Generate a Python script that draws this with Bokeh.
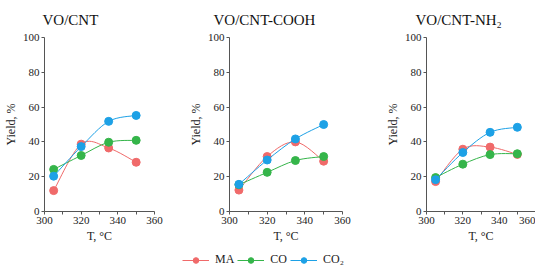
from bokeh.plotting import figure
from bokeh.layouts import row, column
from bokeh.models import Range1d, FixedTicker, Legend, LegendItem, ColumnDataSource
from bokeh.embed import file_html
from bokeh.resources import INLINE

# ---- data ----
temps = [305, 320, 335, 350]
titles = ["VO/CNT", "VO/CNT-COOH", "VO/CNT-NH\u2082"]
series_names = ["MA", "CO", "CO\u2082"]
ma_cnt = [12, 38.7, 36.5, 28.3]
co_cnt = [24.2, 32.2, 39.8, 40.9]
co2_cnt = [20.3, 37.3, 51.8, 55.2]
ma_cooh = [12.3, 31.6, 40.0, 28.9]
co_cooh = [15.4, 22.5, 29.3, 31.6]
co2_cooh = [15.6, 29.6, 41.7, 50.0]
ma_nh2 = [17.2, 35.8, 37.0, 32.8]
co_nh2 = [19.5, 27.2, 32.7, 33.2]
co2_nh2 = [18.3, 33.9, 45.5, 48.4]
x_ticks = [300, 320, 340, 360]
x_minor = [310, 330, 350]
y_ticks = [0, 20, 40, 60, 80, 100]

panels = [
    (titles[0], [ma_cnt, co_cnt, co2_cnt]),
    (titles[1], [ma_cooh, co_cooh, co2_cooh]),
    (titles[2], [ma_nh2, co_nh2, co2_nh2]),
]
colors = ["#F06A6A", "#35B54A", "#1DA1E6"]
FONT = "Liberation Serif"


def spline_segments(xs, ys):
    n = len(xs)
    px = [xs[0]] + list(xs) + [xs[-1]]
    py = [ys[0]] + list(ys) + [ys[-1]]
    d = dict(x0=[], y0=[], x1=[], y1=[], cx0=[], cy0=[], cx1=[], cy1=[])
    for i in range(1, n):
        d["x0"].append(px[i]); d["y0"].append(py[i])
        d["x1"].append(px[i + 1]); d["y1"].append(py[i + 1])
        d["cx0"].append(px[i] + (px[i + 1] - px[i - 1]) / 6)
        d["cy0"].append(py[i] + (py[i + 1] - py[i - 1]) / 6)
        d["cx1"].append(px[i + 1] - (px[i + 2] - px[i]) / 6)
        d["cy1"].append(py[i + 1] - (py[i + 2] - py[i]) / 6)
    return ColumnDataSource(d)


# (min_border_left, frame_width, min_border_right, title offset)
geom = [(34, 110, 31, -2), (34, 113, 40, -16), (34, 109, 0, -11)]

figs = []
for (title, ys_list), (bl, fw, br, toff) in zip(panels, geom):
    p = figure(frame_width=fw, frame_height=174, min_border_left=bl,
               min_border_right=br, min_border_top=33, min_border_bottom=0,
               x_range=Range1d(300, 360), y_range=Range1d(0, 100),
               output_backend="svg", toolbar_location=None, title=title)
    p.title.align = "left"
    p.title.offset = toff
    p.title.text_font = FONT
    p.title.text_font_size = "15px"
    p.title.text_font_style = "normal"
    p.title.text_color = "#111111"
    p.title.standoff = 19
    p.outline_line_color = None
    p.grid.visible = False
    p.xaxis.ticker = FixedTicker(ticks=x_ticks, minor_ticks=x_minor)
    p.yaxis.ticker = FixedTicker(ticks=y_ticks, minor_ticks=[])
    p.xaxis.axis_label = "T, \u00b0C"
    p.yaxis.axis_label = "Yield, %"
    for ax in (p.xaxis[0], p.yaxis[0]):
        ax.axis_line_color = "#555555"
        ax.major_tick_line_color = "#555555"
        ax.minor_tick_line_color = "#555555"
        ax.major_tick_in = 0
        ax.major_tick_out = 3
        ax.minor_tick_in = 0
        ax.minor_tick_out = 3
        ax.major_label_text_font = FONT
        ax.major_label_text_font_size = "11px"
        ax.major_label_text_color = "#222222"
        ax.axis_label_text_font = FONT
        ax.axis_label_text_font_size = "12px"
        ax.axis_label_text_font_style = "normal"
        ax.axis_label_text_color = "#222222"
        ax.major_label_standoff = 2
        ax.axis_label_standoff = 2
    for ys, c in zip(ys_list, colors):
        src = spline_segments(temps, ys)
        p.bezier(x0="x0", y0="y0", x1="x1", y1="y1", cx0="cx0", cy0="cy0",
                 cx1="cx1", cy1="cy1", source=src, line_color=c, line_width=1)
        p.scatter(temps, ys, size=8, fill_color=c, line_color=c)
    figs.append(p)

# legend strip (legend-only renderers, outside the strip's ranges)
lg = figure(width=534, height=24, x_range=Range1d(0, 1), y_range=Range1d(0, 1),
            output_backend="svg", toolbar_location=None, min_border=0,
            x_axis_location=None, y_axis_location=None)
lg.outline_line_color = None
lg.grid.visible = False
items = []
for name, ys, c in zip(series_names, panels[1][1], colors):
    r1 = lg.line(temps, ys, line_color=c, line_width=1)
    r2 = lg.scatter(temps, ys, size=8, fill_color=c, line_color=c)
    items.append(LegendItem(label=name, renderers=[r1, r2]))
legend = Legend(items=items, orientation="horizontal", location=(182, 2),
                glyph_width=27, glyph_height=14, label_standoff=6,
                label_width=0, label_height=14, spacing=3, padding=0, margin=0,
                border_line_color=None, background_fill_alpha=0,
                label_text_font=FONT, label_text_font_size="12px",
                label_text_color="#222222")
lg.add_layout(legend, "center")

layout = column(row(*figs), lg)
open("out.html", "w").write(file_html(layout, INLINE))
